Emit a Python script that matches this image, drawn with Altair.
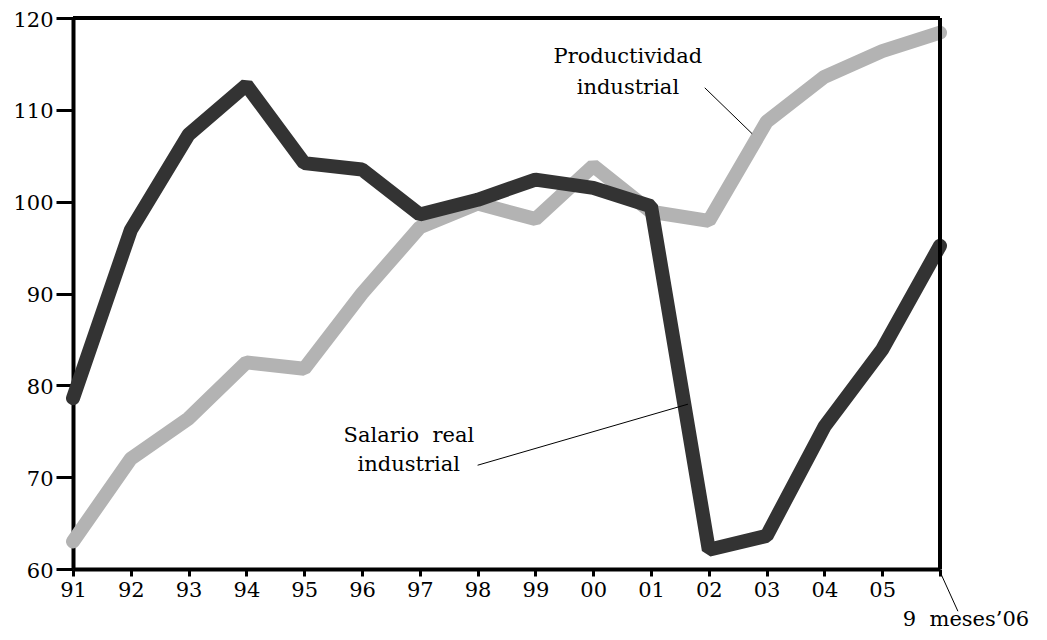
import altair as alt
import pandas as pd

years = ["91", "92", "93", "94", "95", "96", "97", "98", "99", "00", "01", "02", "03", "04", "05", "9 meses’06"]
salario = [78.6, 96.9, 107.3, 112.7, 104.2, 103.5, 98.6, 100.2, 102.4, 101.5, 99.5, 62.1, 63.6, 75.5, 83.9, 95.2]
productividad = [63.0, 72.0, 76.4, 82.5, 81.8, 90.0, 97.2, 99.8, 98.1, 103.9, 98.9, 97.9, 108.7, 113.6, 116.4, 118.4]

idx = list(range(len(years)))
df_s = pd.DataFrame({"i": idx, "v": salario})
df_p = pd.DataFrame({"i": idx, "v": productividad})

FONT = "DejaVu Serif"
FS = 21
label_expr = "datum.value < 15 ? ['91','92','93','94','95','96','97','98','99','00','01','02','03','04','05'][datum.value] : ''"

xs = alt.Scale(domain=[0, 15], nice=False, zero=False)
ys = alt.Scale(domain=[60, 120], nice=False, zero=False)

xax = alt.Axis(values=idx, labelExpr=label_expr, title=None, grid=False,
               domainWidth=4, domainColor="black", tickColor="black", tickWidth=3, tickSize=7,
               labelFont=FONT, labelFontSize=FS, labelColor="black", labelPadding=3, labelFlush=False)
yax = alt.Axis(values=[60, 70, 80, 90, 100, 110, 120], title=None, grid=False,
               domainWidth=4, domainColor="black", tickColor="black", tickWidth=3, tickSize=17,
               labelFont=FONT, labelFontSize=FS, labelColor="black", labelPadding=3, labelOffset=2,
               labelFlush=False)

line_p = alt.Chart(df_p).mark_line(color="#b3b3b3", strokeWidth=14, strokeCap="round", strokeJoin="bevel").encode(
    x=alt.X("i:Q", scale=xs, axis=xax), y=alt.Y("v:Q", scale=ys, axis=yax))
line_s = alt.Chart(df_s).mark_line(color="#333333", strokeWidth=14, strokeCap="round", strokeJoin="bevel").encode(
    x=alt.X("i:Q", scale=xs), y=alt.Y("v:Q", scale=ys))

NB = "\u00a0"
# annotations
ann = pd.DataFrame({
    "x": [9.6, 9.6, 5.81, 5.81],
    "y": [115.75, 112.4, 74.5, 71.3],
    "t": ["Productividad", "industrial", "Salario" + NB + NB + "real", "industrial"],
})
texts = alt.Chart(ann).mark_text(font=FONT, fontSize=FS, color="black", baseline="middle").encode(
    x="x:Q", y="y:Q", text="t:N")

last = pd.DataFrame({"x": [15.45], "y": [53.75], "t": ["9" + NB + NB + "meses’06"]})
last_text = alt.Chart(last).mark_text(font=FONT, fontSize=FS, color="black", baseline="alphabetic").encode(
    x="x:Q", y="y:Q", text="t:N")

leaders = pd.DataFrame({
    "x": [10.93, 7.0, 15.0],
    "y": [112.4, 71.3, 59.7],
    "x2": [11.75, 10.64, 15.31],
    "y2": [107.4, 77.95, 55.4],
})
rules = alt.Chart(leaders).mark_rule(color="black", strokeWidth=1).encode(
    x="x:Q", y="y:Q", x2="x2:Q", y2="y2:Q")

# top and right frame
frame = pd.DataFrame({"x": [0, 15], "y": [120, 60], "x2": [15, 15], "y2": [120, 120]})
frame_rules = alt.Chart(frame).mark_rule(color="black", strokeWidth=4).encode(
    x="x:Q", y="y:Q", x2="x2:Q", y2="y2:Q")

chart = alt.layer(line_p, line_s, frame_rules, rules, texts, last_text).properties(
    width=867, height=551,
    padding={"left": 65, "top": 10, "right": 99, "bottom": 61},
    autosize=alt.AutoSizeParams(type="none"),
).configure_view(stroke=None).configure(background="white")

chart.save("out.html", embed_options={"renderer": "svg", "actions": False})
